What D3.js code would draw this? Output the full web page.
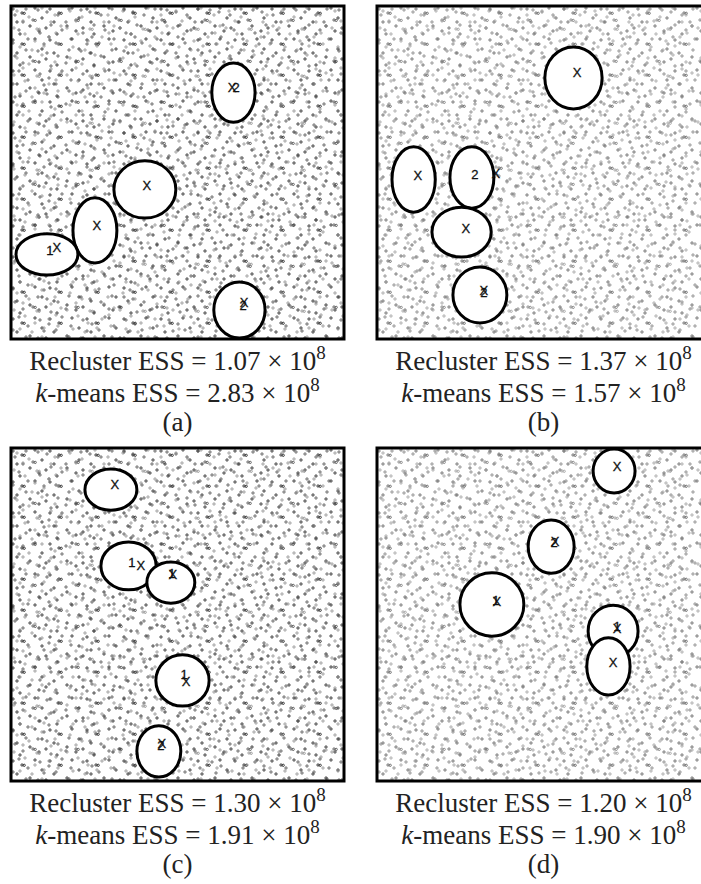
<!DOCTYPE html>
<html>
<head>
<meta charset="utf-8">
<script src="https://cdn.jsdelivr.net/npm/d3@7"></script>
<style>
  body { margin: 0; background: #fff; }
  svg { display: block; }
  .caption { font-family: "Liberation Serif", "Times New Roman", serif; font-size: 27px; fill: #222; }
  .mark { font-family: "Liberation Sans", Arial, sans-serif; font-size: 13px; fill: #111; stroke: #111; stroke-width: 0.3; }
</style>
</head>
<body>
<div id="chart"></div>
<script>
// Données
const panelNames = ["(a)", "(b)", "(c)", "(d)"];
const reclusterESS = [1.07, 1.37, 1.30, 1.20];
const kmeansESS = [2.83, 1.57, 1.91, 1.90];

// Ellipses des clusters [cx, cy, rx, ry], la boîte couvre 0–100 sur chaque axe
const ellipsesA = [[66.8, 74.0, 6.5, 8.9], [40.2, 44.9, 9.3, 8.6], [25.2, 32.6, 6.6, 9.8], [10.8, 25.4, 9.3, 6.2], [68.6, 8.7, 7.7, 8.4]];
const ellipsesB = [[59.0, 78.4, 8.6, 9.3], [11.0, 47.9, 6.5, 9.8], [28.5, 48.5, 6.6, 9.2], [25.4, 32.1, 8.9, 7.5], [30.9, 13.2, 8.1, 8.4]];
const ellipsesC = [[30.0, 87.5, 7.8, 6.2], [35.3, 64.6, 8.3, 7.2], [48.0, 59.6, 7.2, 6.2], [51.5, 30.2, 8.0, 7.7], [44.4, 8.9, 6.6, 7.7]];
const ellipsesD = [[71.2, 93.1, 6.3, 6.6], [52.3, 70.4, 6.9, 8.0], [34.5, 53.0, 9.6, 9.5], [70.9, 45.0, 7.5, 7.8], [69.5, 34.4, 6.5, 8.6]];

// Centres estimés (marqués "X")
const centersA = [[66.4, 75.4], [40.8, 46.2], [25.8, 34.2], [13.8, 27.6], [70.0, 11.1]];
const centersB = [[60.1, 79.9], [12.3, 49.2], [35.7, 49.8], [26.7, 33.3], [32.1, 14.7]];
const centersC = [[31.2, 88.9], [39.0, 64.6], [48.6, 61.9], [52.6, 30.0], [45.3, 11.4]];
const centersD = [[72.1, 94.3], [53.5, 71.8], [36.0, 53.8], [72.1, 45.9], [70.9, 35.7]];

// Étiquettes des vrais clusters [x, y, texte]
const labelsA = [[67.6, 75.4, "2"], [11.7, 26.7, "1"], [69.7, 10.2, "2"]];
const labelsB = [[29.4, 49.5, "2"], [32.1, 14.1, "2"]];
const labelsC = [[36.3, 65.5, "1"], [48.3, 62.2, "1"], [52.0, 31.9, "1"], [45.0, 10.8, "2"]];
const labelsD = [[53.2, 71.5, "2"], [35.7, 54.1, "1"], [72.1, 46.5, "1"]];

const allEllipses = [ellipsesA, ellipsesB, ellipsesC, ellipsesD];
const allCenters = [centersA, centersB, centersC, centersD];
const allLabels = [labelsA, labelsB, labelsC, labelsD];

// Dimensions
const width = 701;
const height = 884;
const size = 333;
const origins = [[11, 6], [377, 6], [11, 448], [377, 448]];
const tones = ["dark", "light", "dark", "light"];

const svg = d3.select("#chart")
  .append("svg")
  .attr("width", width)
  .attr("height", height);

// Texture de fond : les milliers de points non étiquetés ne se lisent pas un à un
const dotTiles = [
  {w: 37, h: 31, dots: [[2, 3], [11, 7], [13.2, 7.3], [24, 2], [31, 12], [6, 16], [19, 20], [28, 25], [35, 22], [9, 28]]},
  {w: 43, h: 41, dots: [[4, 9], [15, 3], [22, 14], [24.2, 14.4], [36, 6], [40, 19], [8, 24], [17, 33],
                        [29, 27], [33, 38], [2, 37], [12, 16], [27, 4], [38, 31]]},
  {w: 53, h: 47, dots: [[6, 5], [18, 11], [31, 2], [44, 9], [50, 20], [3, 22], [14, 28], [26, 23], [28.2, 23.3],
                        [38, 31], [47, 38], [9, 41], [21, 44], [33, 40], [45, 27], [24, 35], [40, 16], [12, 15]]}
];
const toneColors = {dark: ["#111", "#444", "#888"], light: ["#555", "#777", "#999"]};

const defs = svg.append("defs");
Object.keys(toneColors).forEach(tone => {
  dotTiles.forEach((tile, i) => {
    const p = defs.append("pattern")
      .attr("id", `dots-${tone}-${i}`)
      .attr("patternUnits", "userSpaceOnUse")
      .attr("width", tile.w)
      .attr("height", tile.h);
    p.selectAll("circle")
      .data(tile.dots)
      .join("circle")
      .attr("cx", d => d[0])
      .attr("cy", d => d[1])
      .attr("r", 1.15)
      .attr("fill", "none")
      .attr("stroke", toneColors[tone][i])
      .attr("stroke-width", 0.8);
  });
});

const x = d3.scaleLinear().domain([0, 100]).range([0, size]);
const y = d3.scaleLinear().domain([0, 100]).range([size, 0]);

panelNames.forEach((name, k) => {
  const g = svg.append("g")
    .attr("transform", `translate(${origins[k][0]},${origins[k][1]})`);

  // Points de fond
  dotTiles.forEach((tile, i) => {
    g.append("rect")
      .attr("width", size)
      .attr("height", size)
      .attr("fill", `url(#dots-${tones[k]}-${i})`);
  });

  // Ellipses
  g.selectAll("ellipse")
    .data(allEllipses[k])
    .join("ellipse")
    .attr("cx", d => x(d[0]))
    .attr("cy", d => y(d[1]))
    .attr("rx", d => x(d[2]) - x(0))
    .attr("ry", d => y(0) - y(d[3]))
    .attr("fill", "#fff")
    .attr("stroke", "#000")
    .attr("stroke-width", 3);

  // Centres
  g.selectAll("text.center")
    .data(allCenters[k])
    .join("text")
    .attr("class", "mark center")
    .attr("x", d => x(d[0]))
    .attr("y", d => y(d[1]))
    .attr("text-anchor", "middle")
    .attr("dominant-baseline", "central")
    .text("X");

  g.selectAll("text.label")
    .data(allLabels[k])
    .join("text")
    .attr("class", "mark label")
    .attr("x", d => x(d[0]))
    .attr("y", d => y(d[1]))
    .attr("text-anchor", "middle")
    .attr("dominant-baseline", "central")
    .text(d => d[2]);

  // Cadre
  g.append("rect")
    .attr("width", size)
    .attr("height", size)
    .attr("fill", "none")
    .attr("stroke", "#000")
    .attr("stroke-width", 3);

  // Légendes
  const line1 = g.append("text")
    .attr("class", "caption")
    .attr("x", size / 2)
    .attr("y", size + 31)
    .attr("text-anchor", "middle");
  line1.append("tspan").text(`Recluster ESS = ${reclusterESS[k].toFixed(2)} × 10`);
  line1.append("tspan").attr("dy", -11).attr("font-size", 19).text("8");

  const line2 = g.append("text")
    .attr("class", "caption")
    .attr("x", size / 2)
    .attr("y", size + 63)
    .attr("text-anchor", "middle");
  line2.append("tspan").attr("font-style", "italic").text("k");
  line2.append("tspan").text(`-means ESS = ${kmeansESS[k].toFixed(2)} × 10`);
  line2.append("tspan").attr("dy", -11).attr("font-size", 19).text("8");

  g.append("text")
    .attr("class", "caption")
    .attr("x", size / 2)
    .attr("y", size + 92)
    .attr("text-anchor", "middle")
    .text(name);
});
</script>
</body>
</html>
